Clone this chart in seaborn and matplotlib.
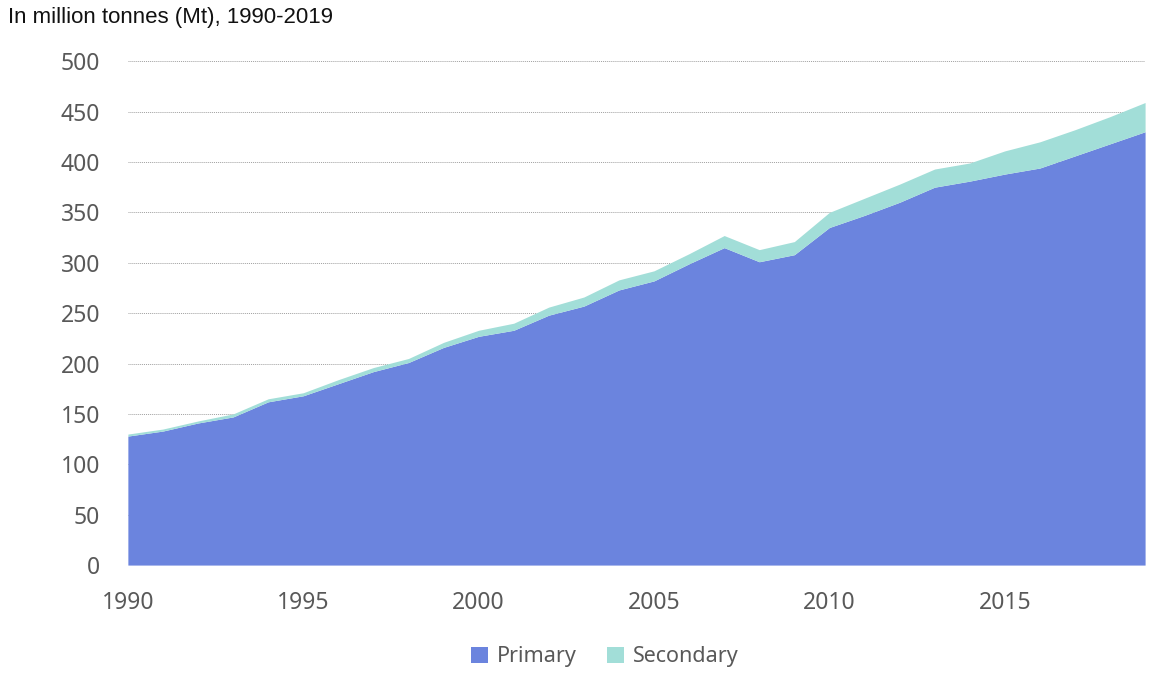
import numpy as np
import pandas as pd
import matplotlib
matplotlib.use("Agg")
import matplotlib.pyplot as plt
import seaborn as sns
from matplotlib.patches import Patch

# Data (Mt)
years = list(range(1990, 2020))
primary = [128, 133, 141, 147, 162, 168, 180, 192, 201, 216,
           227, 233, 248, 257, 273, 282, 299, 315, 301, 308,
           335, 347, 360, 375, 381, 388, 394, 406, 418, 430]
secondary = [2, 2, 2, 3, 3, 3, 4, 4, 4, 5,
             6, 7, 8, 9, 10, 10, 10, 12, 12, 13,
             15, 17, 18, 18, 18, 23, 26, 26, 27, 29]
series_names = ["Primary", "Secondary"]
colors = ["#6b84de", "#a2ded8"]
x_ticks = [1990, 1995, 2000, 2005, 2010, 2015]
y_ticks = list(range(0, 501, 50))

df = pd.DataFrame({"year": years, "Primary": primary, "Secondary": secondary})

sns.set_theme(style="white")
plt.rcParams["font.family"] = ["Noto Sans", "DejaVu Sans"]

fig = plt.figure(figsize=(11.52, 6.8), dpi=100)
ax = fig.add_axes([0.111, 0.169, 0.883, 0.741])

ax.stackplot(df["year"], df["Primary"], df["Secondary"],
             colors=colors, linewidth=0)

ax.set_xlim(1990, 2019)
ax.set_ylim(0, 500)
ax.set_xticks(x_ticks)
ax.set_yticks(y_ticks)
ax.tick_params(axis="both", labelsize=16.5, colors="#595959", length=0)
ax.tick_params(axis="y", pad=20)
ax.tick_params(axis="x", pad=19)

for v in y_ticks[1:]:
    ax.axhline(v, color="#a0a0a0", linestyle=(0, (1, 1)), linewidth=0.7, zorder=0)
ax.grid(False)
sns.despine(ax=ax, left=True, bottom=True)

fig.text(0.007, 0.975, "In million tonnes (Mt), 1990-2019", fontsize=16,
         family=["Liberation Sans Narrow", "Liberation Sans", "DejaVu Sans"],
         color="#111111", va="center", ha="left")

handles = [Patch(facecolor=c, edgecolor="none") for c in colors]
fig.legend(handles, series_names, loc="center", bbox_to_anchor=(0.525, 0.034),
           ncol=2, frameon=False, fontsize=15.5, handlelength=0.8, handleheight=0.8,
           handletextpad=0.4, columnspacing=1.4, labelcolor="#595959")

fig.savefig("out.png", dpi=100)
